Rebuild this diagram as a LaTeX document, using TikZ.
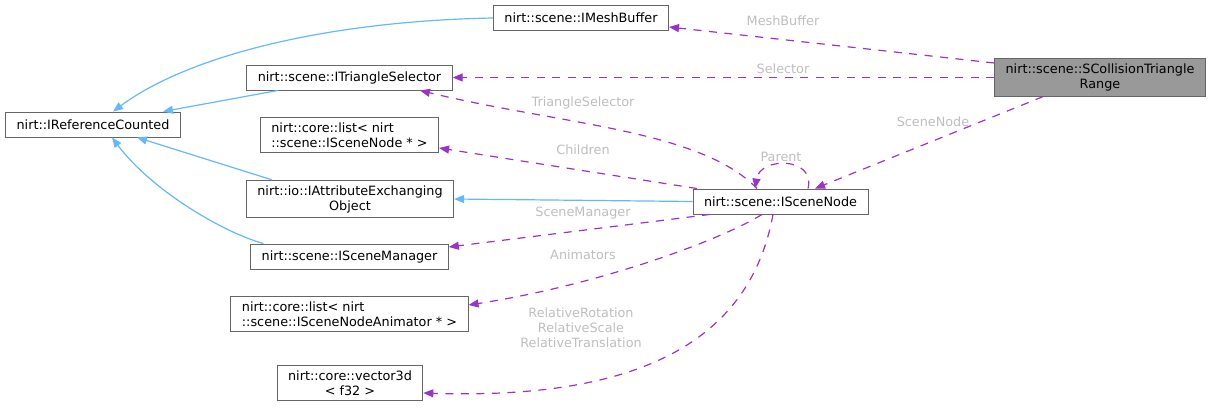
\documentclass[tikz,border=0pt]{standalone}
\usepackage{fontspec}
\setmainfont{DejaVu Sans}
\usetikzlibrary{arrows.meta}

\definecolor{edgeblue}{HTML}{63B8FF}
\definecolor{edgepurple}{HTML}{9A32CD}
\definecolor{boxline}{HTML}{666666}
\definecolor{boxfill}{HTML}{999999}
\definecolor{lblgray}{HTML}{BEBEBE}

\begin{document}
\begin{tikzpicture}[
    x=1pt, y=-1pt,
    cls/.style={rectangle, draw=boxline, fill=white, line width=0.9pt, minimum height=25pt, inner xsep=11pt, inner ysep=5pt, align=center, font=\fontsize{12.8}{15}\selectfont},
    inherit/.style={-{Triangle[length=10pt, width=8pt]}, edgeblue, line width=1.2pt},
    usage/.style={-{Triangle[length=10pt, width=8pt]}, edgepurple, line width=1.2pt, dash pattern=on 8pt off 7.5pt},
    elabel/.style={text=lblgray, font=\fontsize{12.8}{15}\selectfont, align=center},
]
\useasboundingbox (0,0) rectangle (1212,409);

% classes
\node[cls] (refcount) at (93,124.5) {nirt::IReferenceCounted};
\node[cls] (meshbuf) at (581,18) {nirt::scene::IMeshBuffer};
\node[cls] (trisel) at (349.5,77.5) {nirt::scene::ITriangleSelector};
\node[cls, align=left] (nodelist) at (349.5,135) {nirt::core::list< nirt\\::scene::ISceneNode * >};
\node[cls] (attrobj) at (350,199) {nirt::io::IAttributeExchanging\\Object};
\node[cls] (scenemgr) at (349.5,256.5) {nirt::scene::ISceneManager};
\node[cls, align=left] (animlist) at (349.5,314) {nirt::core::list< nirt\\::scene::ISceneNodeAnimator * >};
\node[cls] (vec3d) at (350,383) {nirt::core::vector3d\\< f32 >};
\node[cls] (scenenode) at (780.5,201.5) {nirt::scene::ISceneNode};
\node[cls, fill=boxfill] (sctr) at (1100,77.5) {nirt::scene::SCollisionTriangle\\Range};

% inheritance
\draw[inherit] (meshbuf.west) .. controls +(-163,3) and +(77,-57) .. ([xshift=20pt]refcount.north);
\draw[inherit] ([xshift=-71.5pt]trisel.south) -- ([xshift=70pt]refcount.north);
\draw[inherit] ([xshift=-78pt]attrobj.north) -- ([xshift=44pt]refcount.south);
\draw[inherit] ([xshift=-86pt]scenemgr.north) .. controls +(-43,-12) and +(38,51) .. ([xshift=19pt]refcount.south);
\draw[inherit] (scenenode.west) -- (attrobj.east);

% members
\draw[usage] ([yshift=14.5pt]sctr.west) -- ([yshift=-9pt]meshbuf.east);
\draw[usage] (sctr.west) -- (trisel.east);
\draw[usage] ([xshift=-57pt]sctr.south) -- ([xshift=34.5pt]scenenode.north);
\draw[usage] ([xshift=-23.5pt]scenenode.north) .. controls +(-57,-59) and +(140,34) .. ([xshift=70.5pt]trisel.south);
\draw[usage] ([xshift=-83.5pt]scenenode.north) -- ([yshift=-13pt]nodelist.east);
\draw[usage] ([xshift=27.5pt]scenenode.north) .. controls +(8,-32) and +(5,-32) .. ([xshift=-25.5pt]scenenode.north);
\draw[usage] ([xshift=-70.5pt]scenenode.south) -- ([yshift=9.5pt]scenemgr.east);
\draw[usage] ([xshift=-18.5pt]scenenode.south) .. controls +(-42,26) and +(130,-20) .. ([yshift=9pt]animlist.east);
\draw[usage] ([xshift=-7.5pt]scenenode.south) .. controls +(-23,126) and +(217,7) .. ([yshift=-10pt]vec3d.east);

% labels
\node[elabel] (lblmesh) at (783,21) {MeshBuffer};
\node[elabel] (lblsel) at (783,69) {Selector};
\node[elabel] (lblnode) at (933,122) {SceneNode};
\node[elabel] (lbltri) at (583,103) {TriangleSelector};
\node[elabel] (lblchild) at (583,150) {Children};
\node[elabel] (lblparent) at (781,157) {Parent};
\node[elabel] (lblmgr) at (583,213) {SceneManager};
\node[elabel] (lblanim) at (583,255) {Animators};
\node[elabel] (lblrel) at (581,328) {RelativeRotation\\RelativeScale\\RelativeTranslation};

\end{tikzpicture}
\end{document}
